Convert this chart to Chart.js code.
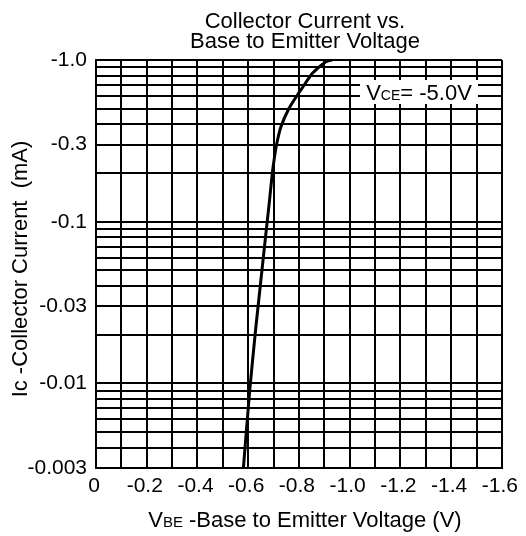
<!DOCTYPE html>
<html>
<head>
<meta charset="utf-8">
<script src="https://cdn.jsdelivr.net/npm/chart.js@4/dist/chart.umd.min.js"></script>
<style>
  html, body { margin: 0; padding: 0; background: #fff; }
  #wrap { width: 526px; height: 536px; }
</style>
</head>
<body>
<div id="wrap"><canvas id="chart" width="526" height="536"></canvas></div>
<script>
// values
const titleLines = ['Collector Current vs.', 'Base to Emitter Voltage'];
const xGrid = [0, -0.1, -0.2, -0.3, -0.4, -0.5, -0.6, -0.7, -0.8, -0.9, -1.0, -1.1, -1.2, -1.3, -1.4, -1.5, -1.6];
const xLabelled = [0, -0.2, -0.4, -0.6, -0.8, -1.0, -1.2, -1.4, -1.6];
// Ic is negative in the picture; the log scale gets the magnitudes
const yGrid = [1, 0.9, 0.8, 0.7, 0.6, 0.5, 0.4, 0.3, 0.2,
               0.1, 0.09, 0.08, 0.07, 0.06, 0.05, 0.04, 0.03, 0.02,
               0.01, 0.009, 0.008, 0.007, 0.006, 0.005, 0.004, 0.003];
const yLabelled = [1, 0.3, 0.1, 0.03, 0.01, 0.003];
const yLabelText = ['-1.0', '-0.3', '-0.1', '-0.03', '-0.01', '-0.003'];

const vbe = [-0.581, -0.606, -0.629, -0.650, -0.669, -0.682, -0.695, -0.703, -0.713, -0.729, -0.761, -0.794, -0.812, -0.853, -0.906, -0.930];
const icMag = [0.003, 0.0091, 0.0214, 0.0436, 0.0827, 0.1268, 0.1992, 0.2477, 0.3067, 0.3869, 0.5029, 0.6075, 0.6683, 0.8274, 0.976, 1.0];

const FONT = '"Liberation Sans", Arial, sans-serif';

function near(a, b) { return Math.abs(a - b) < 1e-9; }

// titles and the Vce note are drawn as text on top of the chart
const textPlugin = {
    id: 'texts',
    afterDraw(chart) {
        const ctx = chart.ctx;
        const area = chart.chartArea;
        const cx = (area.left + area.right) / 2 + 6;
        ctx.save();
        ctx.fillStyle = '#000';
        ctx.textBaseline = 'alphabetic';
        ctx.textAlign = 'center';
        ctx.font = '22px ' + FONT;
        ctx.fillText(titleLines[0], cx, 28);
        ctx.fillText(titleLines[1], cx, 48);

        // y title, rotated
        ctx.save();
        ctx.translate(27, (area.top + area.bottom) / 2 + 5);
        ctx.rotate(-Math.PI / 2);
        ctx.fillText('Ic -Collector Current  (mA)', 0, 0);
        ctx.restore();

        // x title with small "BE"
        drawMixed(ctx, [['V', 22], ['BE', 15], [' -Base to Emitter Voltage (V)', 22]], cx, 527);

        // Vce note on a white box
        ctx.fillStyle = '#fff';
        ctx.fillRect(360, 80, 118, 24);
        ctx.fillStyle = '#000';
        drawMixed(ctx, [['V', 22], ['CE', 14], ['= -5.0V', 22]], 419, 100);
        ctx.restore();
    }
};

function drawMixed(ctx, parts, centerX, baseY) {
    let total = 0;
    parts.forEach(p => { ctx.font = p[1] + 'px ' + FONT; total += ctx.measureText(p[0]).width; });
    let x = centerX - total / 2;
    ctx.textAlign = 'left';
    parts.forEach(p => {
        ctx.font = p[1] + 'px ' + FONT;
        ctx.fillText(p[0], x, baseY);
        x += ctx.measureText(p[0]).width;
    });
}

new Chart(document.getElementById('chart'), {
    type: 'scatter',
    data: {
        datasets: [{
            data: vbe.map((v, i) => ({ x: v, y: icMag[i] })),
            showLine: true,
            borderColor: '#000',
            borderWidth: 3,
            pointRadius: 0,
            tension: 0.2,
            fill: false
        }]
    },
    options: {
        responsive: false,
        animation: false,
        layout: { padding: { top: 60, right: 23, left: 0, bottom: 0 } },
        plugins: { legend: { display: false }, tooltip: { enabled: false }, title: { display: false } },
        scales: {
            x: {
                type: 'linear',
                min: -1.6,
                max: 0,
                reverse: true,
                afterBuildTicks: (s) => { s.ticks = xGrid.map(v => ({ value: v })); },
                afterFit: (s) => { s.height = 68; },
                grid: { color: '#000', lineWidth: 2, drawTicks: false },
                border: { color: '#000', width: 2 },
                ticks: {
                    autoSkip: false,
                    maxRotation: 0,
                    padding: 6,
                    labelOffset: -2,
                    color: '#000',
                    font: { family: FONT, size: 21 },
                    callback: (v) => {
                        if (!xLabelled.some(l => near(l, v))) return '';
                        return near(v, 0) ? '0' : v.toFixed(1);
                    }
                }
            },
            y: {
                type: 'logarithmic',
                min: 0.003,
                max: 1,
                afterBuildTicks: (s) => { s.ticks = yGrid.map(v => ({ value: v })); },
                afterFit: (s) => { s.width = 96; },
                grid: { color: '#000', lineWidth: 2, drawTicks: false },
                border: { color: '#000', width: 2 },
                ticks: {
                    autoSkip: false,
                    padding: 9,
                    color: '#000',
                    font: { family: FONT, size: 21 },
                    callback: (v) => {
                        const i = yLabelled.findIndex(l => near(l, v));
                        return i < 0 ? '' : yLabelText[i];
                    }
                }
            }
        }
    },
    plugins: [textPlugin]
});
</script>
</body>
</html>
